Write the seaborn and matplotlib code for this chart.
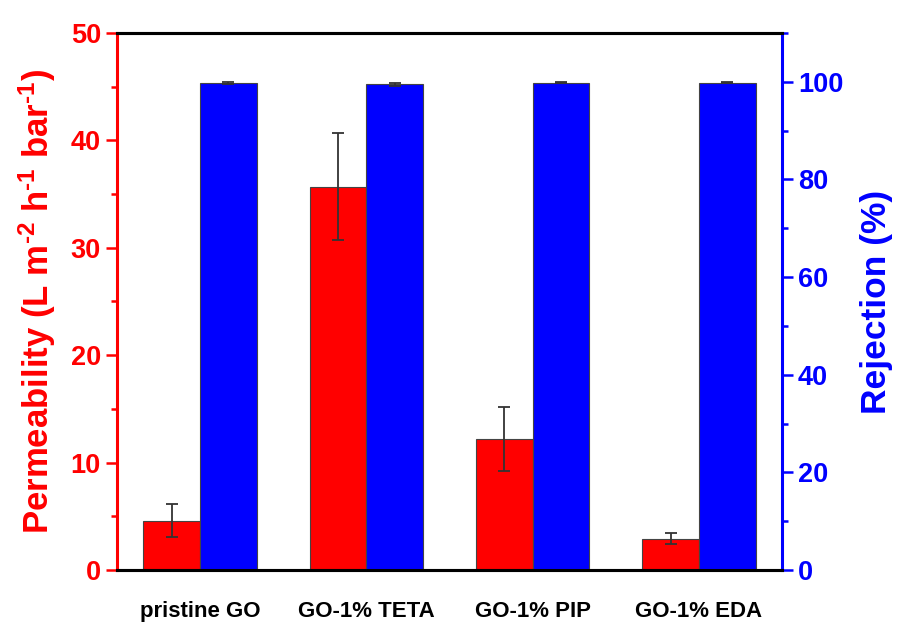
import matplotlib
matplotlib.use('Agg')
import matplotlib.pyplot as plt
import seaborn as sns
import pandas as pd
from matplotlib.ticker import MultipleLocator

samples = ['pristine GO', 'GO-1% TETA', 'GO-1% PIP', 'GO-1% EDA']
permeability = [4.6, 35.7, 12.2, 2.9]
permeability_err = [1.5, 5.0, 3.0, 0.5]
rejection = [99.7, 99.5, 99.8, 99.8]
rejection_err = [0.2, 0.3, 0.1, 0.1]
metrics = ['Permeability', 'Rejection']

sns.set_style('white')
plt.rcParams['font.family'] = ['Liberation Sans', 'DejaVu Sans']
plt.rcParams['font.weight'] = 'bold'
plt.rcParams['mathtext.fontset'] = 'custom'
plt.rcParams['mathtext.rm'] = 'Liberation Sans:bold'
plt.rcParams['mathtext.bf'] = 'Liberation Sans:bold'
plt.rcParams['mathtext.default'] = 'bf'

df = pd.DataFrame({
    'sample': samples * 2,
    'metric': [metrics[0]] * 4 + [metrics[1]] * 4,
    'value': permeability + rejection,
})
palette = {'Permeability': '#ff0000', 'Rejection': '#0000ff'}

fig = plt.figure(figsize=(8.99, 6.33), dpi=100)
ax1 = fig.add_axes([0.130, 0.0995, 0.740, 0.8485])
ax2 = ax1.twinx()

for ax, m, errs in [(ax1, metrics[0], permeability_err), (ax2, metrics[1], rejection_err)]:
    sns.barplot(data=df[df.metric == m], x='sample', y='value', hue='metric',
                hue_order=metrics, order=samples, palette=palette, width=0.68,
                dodge=True, errorbar=None, ax=ax, legend=False, saturation=1,
                edgecolor='#444444', linewidth=0.8)
    bars = sorted(ax.patches, key=lambda p: p.get_x())
    xs = [p.get_x() + p.get_width() / 2 for p in bars]
    hs = [p.get_height() for p in bars]
    ax.errorbar(xs, hs, yerr=errs, fmt='none', ecolor='#333333', elinewidth=1.3,
                capsize=4, capthick=1.3, zorder=5)

ax1.set_xlim(-0.5, 3.5)
ax1.set_ylim(0, 50)
ax2.set_ylim(0, 110)

ax1.yaxis.set_major_locator(MultipleLocator(10))
ax1.yaxis.set_minor_locator(MultipleLocator(5))
ax2.yaxis.set_major_locator(MultipleLocator(20))
ax2.yaxis.set_minor_locator(MultipleLocator(10))

ax1.set_xlabel('')
ax2.set_xlabel('')
ax1.set_ylabel(r'Permeability (L m$^{\text{-2}}$ h$^{\text{-1}}$ bar$^{\text{-1}}$)',
               color='#ff0000', fontsize=25, fontweight='bold', labelpad=9)
ax2.set_ylabel('Rejection (%)', color='#0000ff', fontsize=25.5, fontweight='bold',
               labelpad=12)

ax1.tick_params(axis='x', length=0, pad=22, labelsize=16, labelcolor='black')
ax1.tick_params(axis='y', which='major', direction='out', length=8, width=1.8,
                color='#ff0000', labelcolor='#ff0000', labelsize=19.5)
ax1.tick_params(axis='y', which='minor', direction='out', length=4.5, width=1.8,
                color='#ff0000')
ax2.tick_params(axis='y', which='major', direction='out', length=8, width=1.8,
                color='#0000ff', labelcolor='#0000ff', labelsize=19.5)
ax2.tick_params(axis='y', which='minor', direction='out', length=4.5, width=1.8,
                color='#0000ff')
for lab in ax1.get_xticklabels() + ax1.get_yticklabels() + ax2.get_yticklabels():
    lab.set_fontweight('bold')

for ax in (ax1, ax2):
    for s in ax.spines.values():
        s.set_linewidth(2.2)
    ax.spines['top'].set_color('black')
    ax.spines['bottom'].set_color('black')
ax1.spines['left'].set_color('#ff0000')
ax1.spines['right'].set_visible(False)
ax2.spines['left'].set_visible(False)
ax2.spines['right'].set_color('#0000ff')

fig.savefig('out.png', dpi=100)
